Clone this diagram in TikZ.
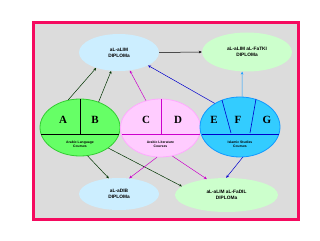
\documentclass[tikz,border=0pt]{standalone}
\usepackage{fontspec}
\setmainfont{Liberation Serif}
\setsansfont{Liberation Sans}
\usetikzlibrary{shapes.geometric,arrows.meta}
\definecolor{bgray}{HTML}{DCDCDC}
\definecolor{frame}{HTML}{F50A5F}
\definecolor{lblue}{HTML}{CCEEFF}
\definecolor{lgreen}{HTML}{CCFFCC}
\definecolor{gfill}{HTML}{66FF66}
\definecolor{gline}{HTML}{33CC33}
\definecolor{pfill}{HTML}{FFCCFF}
\definecolor{pline}{HTML}{FFAAFF}
\definecolor{mag}{HTML}{CC00CC}
\definecolor{bfill}{HTML}{33CCFF}
\definecolor{bline}{HTML}{1199FF}
\definecolor{dblue}{HTML}{0000CC}
\definecolor{dgreen}{HTML}{003300}
\definecolor{ablue}{HTML}{1AA0FF}
\begin{document}
\begin{tikzpicture}[x=1pt,y=-1pt,
  dip/.style={ellipse,inner sep=0pt,align=center,font=\sffamily\bfseries\fontsize{4.8}{6.2}\selectfont},
  grp/.style={ellipse,inner sep=0pt,line width=0.8pt,minimum width=80pt},
  lett/.style={font=\rmfamily\bfseries\fontsize{11}{11}\selectfont,inner sep=0pt},
  grpcaption/.style={align=center,inner sep=0pt,font=\sffamily\bfseries\fontsize{3.4}{4.2}\selectfont},
  arr/.style={-{Stealth[length=3pt,width=2.6pt]},line width=0.5pt}]
\useasboundingbox (0,0) rectangle (320,240);
\fill[white] (0,0) rectangle (320,240);
\draw[frame,line width=3pt,fill=bgray] (33.5,22.5) rectangle (298.5,219.5);
% diploma ellipses
\node[dip,fill=lblue,minimum width=80pt,minimum height=37pt] (tl) at (119,52.5) {aL-aLIM\\DIPLOMa};
\node[dip,fill=lgreen,minimum width=90pt,minimum height=39pt] (tr) at (247,52) {aL-aLIM aL-FaTKI\\DIPLOMa};
\node[dip,fill=lblue,minimum width=80pt,minimum height=32pt] (bl) at (119,194) {aL-aDIB\\DIPLOMa};
\node[dip,fill=lgreen,minimum width=103pt,minimum height=34pt] (br) at (226.5,195) {aL-aLIM aL-FaDIL\\DIPLOMa};
% group ellipses
\node[grp,draw=gline,fill=gfill,minimum height=57pt] (g) at (80,127.5) {};
\node[grp,draw=pline,fill=pfill,minimum height=58pt] (p) at (160.5,128) {};
\node[grp,draw=bline,fill=bfill,minimum height=60pt] (b) at (240,127) {};
% dividers
\draw[black,line width=0.6pt] (80,99.5) -- (80,134);
\draw[black,line width=0.6pt] (41,134) -- (119,134);
\draw[mag,line width=0.6pt] (161,99.5) -- (161,134);
\draw[mag,line width=0.6pt] (122,134) -- (199.5,134);
\draw[dblue,line width=0.6pt] (222,100) -- (231,133);
\draw[dblue,line width=0.6pt] (256,99) -- (250,133);
\draw[dblue,line width=0.6pt] (201.5,134) -- (278.5,134);
% letters
\node[lett] (la) at (63,120) {A};
\node[lett] (lb) at (95,120) {B};
\node[lett] (lc) at (146,120) {C};
\node[lett] (ld) at (178,120) {D};
\node[lett] (le) at (214,120) {E};
\node[lett] (lf) at (238,120) {F};
\node[lett] (lg) at (267,120) {G};
% captions
\node[grpcaption] (cg) at (80,144.5) {Arabic Language\\Courses};
\node[grpcaption] (cp) at (160.5,144.5) {Arabic Literature\\Courses};
\node[grpcaption] (cb) at (240,144.5) {Islamic Studies\\Courses};
% arrows
\draw[arr,dgreen] (g.113) -- (tl.214);
\draw[arr,dgreen] (g.54) -- (tl.247);
\draw[arr,mag] (p.118) -- (tl.301);
\draw[arr,dblue] (b.137) -- (tl.336);
\draw[arr,black] (tl.east) -- (tr.west);
\draw[arr,ablue] (b.86) -- (tr.256);
\draw[arr,dgreen] (g.285) -- (bl.123);
\draw[arr,dgreen] (g.324) -- (br.169);
\draw[arr,mag] (p.263) -- (bl.57);
\draw[arr,mag] (p.293) -- (br.141);
\draw[arr,dblue] (b.275) -- (br.91);
\end{tikzpicture}
\end{document}
